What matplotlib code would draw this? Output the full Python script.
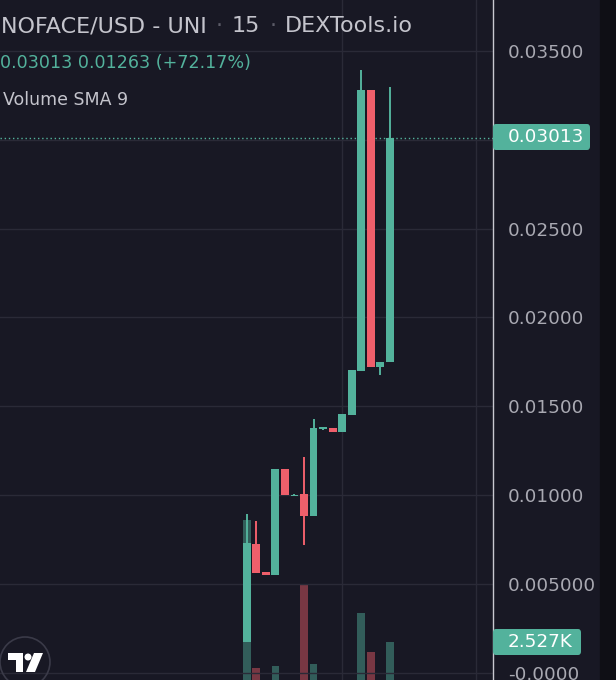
import numpy as np
import matplotlib.pyplot as plt
from matplotlib.patches import FancyBboxPatch, Ellipse, Polygon, Rectangle

# 15 min candles, NOFACE/USD
opens = [0.00173, 0.00725, 0.00566, 0.00551, 0.01147, 0.00995, 0.01005, 0.00883,
         0.01371, 0.01380, 0.01357, 0.01451, 0.01699, 0.03280, 0.01723, 0.01750]
closes = [0.00731, 0.00560, 0.00551, 0.01147, 0.00999, 0.01003, 0.00883, 0.01378,
          0.01382, 0.01357, 0.01457, 0.01705, 0.03280, 0.01723, 0.01750, 0.03013]
highs = [0.00894, 0.00856, 0.00566, 0.01147, 0.01147, 0.01006, 0.01213, 0.01429,
         0.01385, 0.01380, 0.01457, 0.01705, 0.03393, 0.03280, 0.01750, 0.03299]
lows = [0.00173, 0.00560, 0.00551, 0.00551, 0.00999, 0.00993, 0.00721, 0.00883,
        0.01368, 0.01357, 0.01357, 0.01451, 0.01699, 0.01723, 0.01676, 0.01750]
volumes = [7850, 1375, 300, 1465, 600, 150, 5050, 1550,
           100, 200, 500, 700, 3770, 2080, 400, 2527]

price_ticks = [0.035, 0.030, 0.025, 0.020, 0.015, 0.010, 0.005, 0.0]
price_labels = ["0.03500", "", "0.02500", "0.02000", "0.01500", "0.01000", "0.005000", "-0.0000"]
last_price = 0.03013
last_volume_label = "2.527K"
title_parts = ["NOFACE/USD - UNI", "·", "15", "·", "DEXTools.io"]

bg = "#181824"
up = "#53b29c"
down = "#ef5f6b"
grid = "#2a2a37"
txt = "#c4c4cc"

W, H = 616, 680
fig = plt.figure(figsize=(W / 100, H / 100), dpi=100)
fig.patch.set_facecolor(bg)


def fx(x):
    return x / W


def fy(y):
    return 1 - y / H


ax = fig.add_axes([0, 0, 493 / W, 1])
ax.set_facecolor(bg)

x = np.arange(len(opens))
o = np.array(opens)
c = np.array(closes)
cols = [up if cc >= oo else down for oo, cc in zip(o, c)]

# volume overlay (its zero sits just below the visible area)
axv = ax.twinx()
axv.bar(x, volumes, width=0.8, color=cols, alpha=0.45, zorder=1)
axv.set_ylim(871, 30498)
axv.set_yticks([])
axv.set_zorder(0)
ax.set_zorder(1)
ax.patch.set_visible(False)
axv.set_facecolor(bg)

# candles
ax.vlines(x, lows, highs, color=cols, lw=1.4, zorder=3)
body = np.maximum(np.abs(c - o), 0.00007)
ax.bar(x, body, bottom=np.minimum(o, c), width=0.82, color=cols, zorder=4)

ax.axhline(last_price, color=up, lw=1, ls=(0, (1, 2)), zorder=2)

ax.set_xlim(-25.83, 25.79)
ax.set_ylim(-0.000403, 0.03787)
ax.set_xticks([10, 24])
ax.set_xticklabels([])
ax.set_yticks(price_ticks)
ax.set_yticklabels(price_labels)
ax.yaxis.tick_right()
ax.tick_params(axis="y", length=0, pad=10.8, labelsize=13.2, labelcolor="#a9a9b2")
ax.tick_params(axis="x", length=0)
ax.grid(True, color=grid, lw=1)
ax.set_axisbelow(True)
for s in ["top", "left", "bottom"]:
    ax.spines[s].set_visible(False)
    axv.spines[s].set_visible(False)
axv.spines["right"].set_visible(False)
ax.spines["right"].set_color("#c8c8d0")
ax.spines["right"].set_linewidth(1)

# dark strip at the right edge
fig.patches.append(Rectangle((fx(600), 0), fx(16), 1, transform=fig.transFigure,
                             color="#0f0f15", zorder=0))


def tag(x0, x1, yc, h, label):
    fig.patches.append(FancyBboxPatch((fx(x0), fy(yc + h / 2)), fx(x1 - x0), h / H,
                                      boxstyle="round,pad=0,rounding_size=0.005",
                                      transform=fig.transFigure, fc=up, ec="none", zorder=5))
    fig.text(fx(x0 + 15), fy(yc), label, color="white", fontsize=13.2,
             va="center", ha="left", zorder=6)


tag(493, 590, 137, 26, "0.03013")
tag(493, 581, 642, 26, last_volume_label)

# header, separators in a dimmer grey
renderer = fig.canvas.get_renderer()
xpos = 1
for part in title_parts:
    sep = part == "·"
    t = fig.text(fx(xpos), fy(26), part, color="#5c5c68" if sep else txt,
                 fontsize=16, va="center", ha="left")
    xpos = t.get_window_extent(renderer).x1 + 9
fig.text(fx(0), fy(63), "0.03013 0.01263 (+72.17%)", color=up,
         fontsize=12.6, va="center", ha="left")
fig.text(fx(3), fy(100), "Volume SMA 9", color=txt, fontsize=12.5, va="center", ha="left")

# logo
fig.patches.append(Ellipse((fx(25), fy(662)), 50 / W, 50 / H, transform=fig.transFigure,
                           fc="none", ec="#3a3a48", lw=1.2, zorder=5))
fig.patches.append(Polygon([(fx(8), fy(653)), (fx(23), fy(653)), (fx(23), fy(672)),
                            (fx(16), fy(672)), (fx(16), fy(660)), (fx(8), fy(660))],
                           closed=True, transform=fig.transFigure, fc="white", zorder=6))
fig.patches.append(Ellipse((fx(28), fy(657)), 7 / W, 7 / H, transform=fig.transFigure,
                           fc="white", zorder=6))
fig.patches.append(Polygon([(fx(34), fy(653)), (fx(43), fy(653)), (fx(35), fy(672)),
                            (fx(26), fy(672))],
                           closed=True, transform=fig.transFigure, fc="white", zorder=6))

fig.savefig("out.png", dpi=100, facecolor=bg)
